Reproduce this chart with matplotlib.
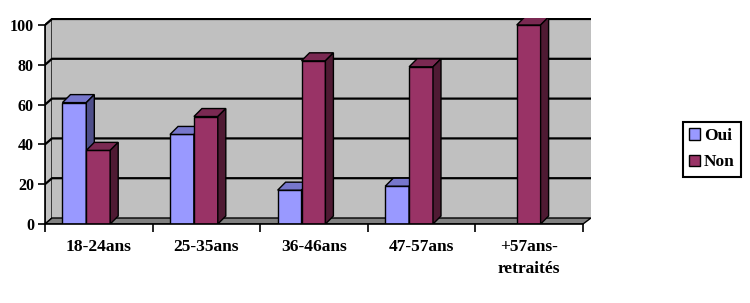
import matplotlib.pyplot as plt
from matplotlib.patches import Polygon, Patch

categories = ['18-24ans', '25-35ans', '36-46ans', '47-57ans', '+57ans-\nretraités']
oui = [61, 45, 17, 19, 0]
non = [37, 54, 82, 79, 100]
yticks = [0, 20, 40, 60, 80, 100]

oui_cols = ('#9999FF', '#7777CC', '#4F4F8A')   # front, top, side
non_cols = ('#993366', '#7A2952', '#4F1A33')

# pixel geometry of the reference
W, H = 750, 303
px_left, px_right, px_front0, px_front100 = 45, 583, 224, 25
px_wall_right, px_wall_top = 591, 18
ux = (px_right - px_left) / 5.0          # px per category
uy = (px_front0 - px_front100) / 100.0   # px per unit
wdx, wdy = 7 / ux, 6 / uy                # wall depth
bdx, bdy = 8 / ux, 8 / uy                # bar depth
xmax = (px_wall_right - px_left) / ux
ymax = (px_front0 - px_wall_top) / uy

plt.rcParams['font.family'] = ['Liberation Serif', 'DejaVu Serif']
plt.rcParams['font.weight'] = 'bold'

fig = plt.figure(figsize=(W / 100, H / 100), dpi=100)
ax = fig.add_axes([px_left / W, (H - px_front0) / H,
                   (px_wall_right - px_left) / W, (px_front0 - px_wall_top) / H])
ax.set_xlim(0, xmax)
ax.set_ylim(0, ymax)
ax.patch.set_visible(False)

grey = '#C0C0C0'
# left wall
ax.add_patch(Polygon([(0, 0), (wdx, wdy), (wdx, 100 + wdy), (0, 100)],
                     closed=True, fc=grey, ec='black', lw=1, zorder=1))
# back wall
ax.add_patch(Polygon([(wdx, wdy), (xmax, wdy), (xmax, 100 + wdy), (wdx, 100 + wdy)],
                     closed=True, fc=grey, ec='none', lw=0, zorder=1))
# floor
ax.add_patch(Polygon([(0, 0), (5, 0), (xmax, wdy), (wdx, wdy)],
                     closed=True, fc='#808080', ec='black', lw=1, zorder=2))
# gridlines
for v in yticks[1:]:
    ax.plot([0, wdx, xmax], [v, v + wdy, v + wdy], color='black', lw=1.6, zorder=2)


def bar3d(x0, w, h, cols):
    if h <= 0:
        return
    front, top, side = cols
    ax.add_patch(Polygon([(x0, 0), (x0 + w, 0), (x0 + w, h), (x0, h)],
                         closed=True, fc=front, ec='black', lw=1, zorder=3))
    ax.add_patch(Polygon([(x0, h), (x0 + w, h), (x0 + w + bdx, h + bdy), (x0 + bdx, h + bdy)],
                         closed=True, fc=top, ec='black', lw=1, zorder=3))
    ax.add_patch(Polygon([(x0 + w, 0), (x0 + w + bdx, bdy), (x0 + w + bdx, h + bdy), (x0 + w, h)],
                         closed=True, fc=side, ec='black', lw=1, zorder=3))


bw = 0.222
for i in range(len(categories)):
    bar3d(i + 0.162, bw, oui[i], oui_cols)
    bar3d(i + 0.162 + bw, bw, non[i], non_cols)

# axes
for s in ['top', 'right']:
    ax.spines[s].set_visible(False)
ax.spines['left'].set_bounds(0, 100)
ax.spines['bottom'].set_bounds(0, 5)
for s in ['left', 'bottom']:
    ax.spines[s].set_linewidth(1.2)
    ax.spines[s].set_zorder(5)
ax.set_yticks(yticks)
ax.set_yticklabels([str(v) for v in yticks])
ax.tick_params(axis='y', direction='out', length=5, width=1.2, pad=3, labelsize=11.5)
ax.set_xticks(range(6))
ax.set_xticklabels([''] * 6)
ax.set_xticks([i + 0.5 for i in range(5)], minor=True)
ax.set_xticklabels(categories, minor=True, linespacing=1.45)
ax.tick_params(axis='x', which='major', direction='out', length=6, width=1.2)
ax.tick_params(axis='x', which='minor', length=0, pad=11, labelsize=12.5)

handles = [Patch(fc=oui_cols[0], ec='black', lw=1, label='Oui'),
           Patch(fc=non_cols[0], ec='black', lw=1, label='Non')]
leg = fig.legend(handles=handles, loc='upper left', bbox_to_anchor=(683 / W, 1 - 122 / H),
                 frameon=True, fancybox=False, edgecolor='black', framealpha=1,
                 handlelength=0.65, handleheight=0.65, handletextpad=0.2,
                 borderpad=0.35, labelspacing=0.6, fontsize=12.5, borderaxespad=0)
leg.get_frame().set_linewidth(1.5)

fig.savefig('out.png', dpi=100)
